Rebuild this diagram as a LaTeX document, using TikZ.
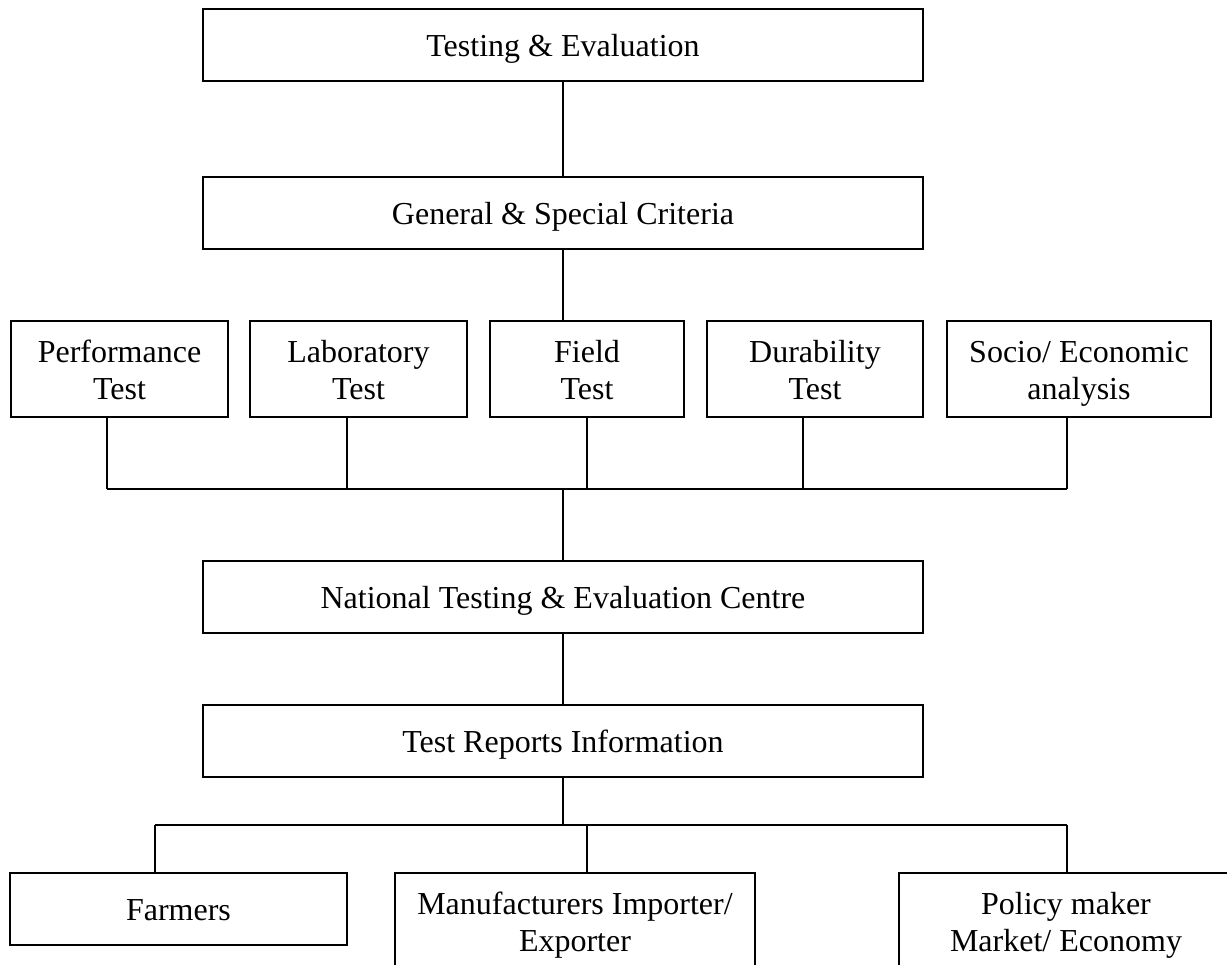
\documentclass[tikz,border=0pt]{standalone}
\usepackage{fontspec}
\setmainfont{Liberation Serif}
\newcommand{\boxstrut}{\rule[-2.9pt]{0pt}{14.1pt}}
\newcommand{\tallstrut}{\rule[-2.9pt]{0pt}{29pt}}
\begin{document}
\begin{tikzpicture}[x=0.375pt,y=-0.375pt,line width=0.55pt,
	base/.style={draw,inner sep=0pt,align=center,font=\fontsize{12}{13.9}\selectfont},
	blk/.style={base,minimum height=27pt,
		execute at begin node=\boxstrut,execute at end node=\boxstrut},
	tall/.style={base,minimum height=36pt,
		execute at begin node=\tallstrut,execute at end node=\boxstrut}]
	\useasboundingbox (0,0) rectangle (1227,965);
	% main column
	\node[blk,minimum width=270pt] (top) at (563,45) {Testing \& Evaluation};
	\node[blk,minimum width=270pt] (crit) at (563,213) {General \& Special Criteria};
	% tests
	\node[tall,minimum width=81.4pt] (perf) at (119.5,369) {Performance\\Test};
	\node[tall,minimum width=81.4pt] (lab) at (358.5,369) {Laboratory\\Test};
	\node[tall,minimum width=72.75pt] (field) at (587,369) {Field\\Test};
	\node[tall,minimum width=81pt] (dur) at (815,369) {Durability\\Test};
	\node[tall,minimum width=99pt] (soc) at (1079,369) {Socio/ Economic\\analysis};
	\node[blk,minimum width=270pt] (ntec) at (563,597) {National Testing \& Evaluation Centre};
	\node[blk,minimum width=270pt] (rep) at (563,741) {Test Reports Information};
	% users
	\node[blk,minimum width=126.4pt] (farm) at (178.5,909) {Farmers};
	\node[tall,minimum width=135pt] (manu) at (575,921) {Manufacturers Importer/\\Exporter};
	\node[tall,minimum width=125.25pt] (pol) at (1066,921) {Policy maker\\Market/ Economy};
	
	\coordinate (perf drop) at (107,489);
	\coordinate (lab drop) at (347,489);
	\coordinate (field drop) at (587,489);
	\coordinate (dur drop) at (803,489);
	\coordinate (soc drop) at (1067,489);
	\coordinate (testbus) at (563,489);
	\coordinate (farm drop) at (155,825);
	\coordinate (manu drop) at (587,825);
	\coordinate (pol drop) at (1067,825);
	\coordinate (repbus) at (563,825);
	
	\draw (top) -- (crit);
	\draw (crit) -- (crit.south |- field.north);
	\foreach \n in {perf,lab,field,dur,soc}
	{
	\draw (\n\space drop |- \n.south) -- (\n\space drop);
	}
	\draw (perf drop) -- (soc drop);
	\draw (testbus) -- (ntec);
	\draw (ntec) -- (rep);
	\draw (rep) -- (repbus);
	\draw (farm drop) -- (pol drop);
	\foreach \n in {farm,manu,pol}
	{
	\draw (\n\space drop) -- (\n\space drop |- \n.north);
	}
\end{tikzpicture}
\end{document}
